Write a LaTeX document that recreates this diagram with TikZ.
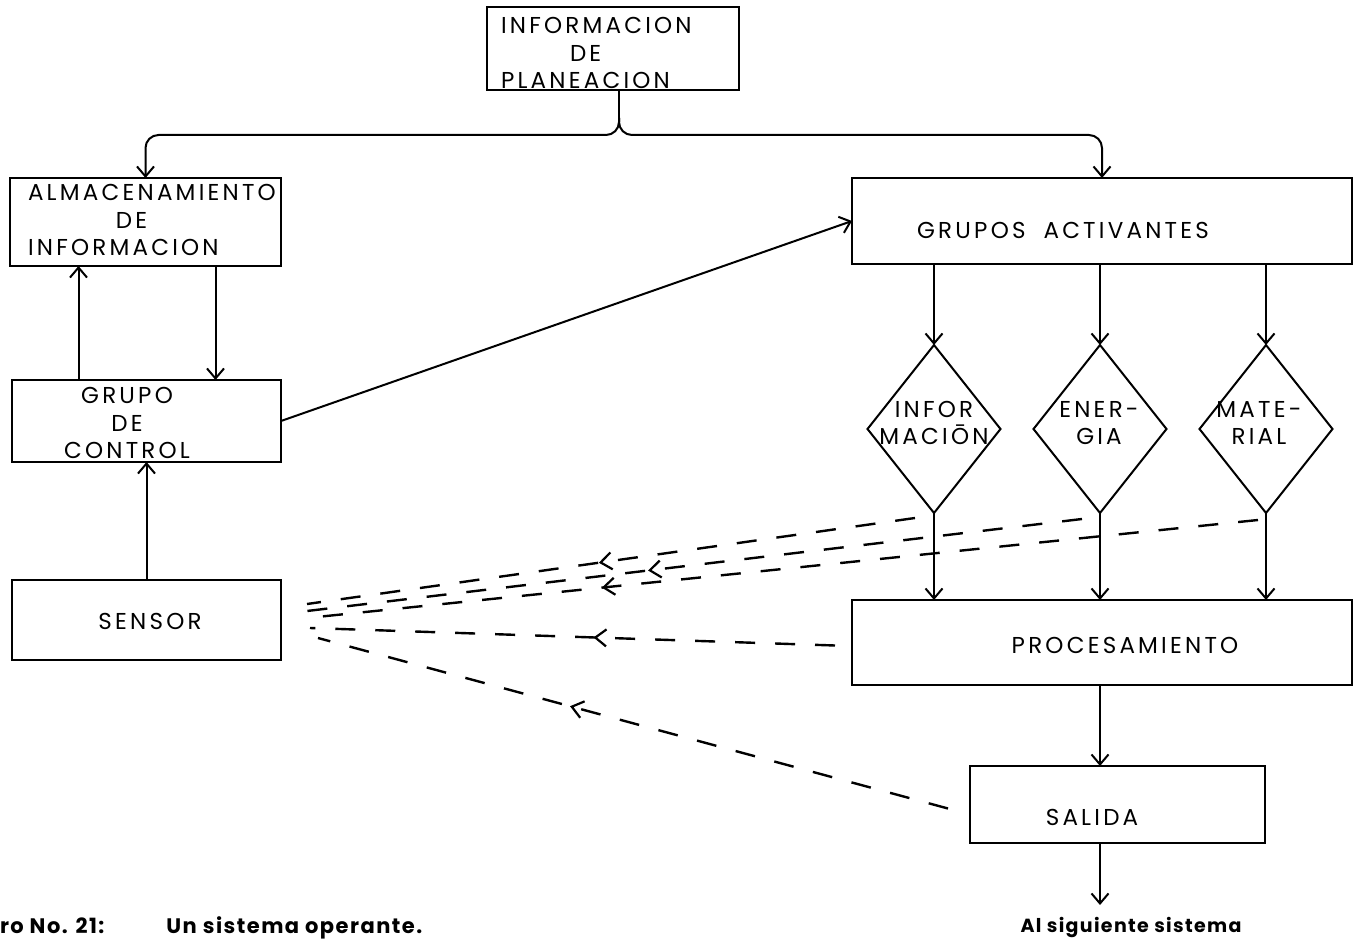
\documentclass[tikz,border=0pt]{standalone}
\usepackage{fontspec}
\setmainfont{Poppins}
\newfontfamily\boxfont{Poppins}[LetterSpace=14]
\newfontfamily\capfont{Poppins}[LetterSpace=7]
\usetikzlibrary{arrows.meta,shapes.geometric,decorations.markings}

\begin{document}
\begin{tikzpicture}[x=1pt,y=-1pt,
  every node/.style={inner sep=0pt,outer sep=0pt},
  box/.style={draw,line width=2pt,rectangle},
  rhombus/.style={draw,line width=2pt,diamond,minimum width=133pt,minimum height=168pt},
  txt/.style={font=\boxfont\fontsize{23}{27.5}\selectfont,align=center},
  captxt/.style={font=\capfont\bfseries\fontsize{#1}{24}\selectfont},
  conn/.style={line width=2pt},
  arrowed/.style={-{Straight Barb[length=10pt,width=17pt,line width=2pt]}},
  fb/.style={line width=2.4pt,dash pattern=on 20pt off 20pt,
    decoration={markings,mark=at position #1 with
      {\arrow{Straight Barb[length=11pt,width=17pt,line width=2.2pt]}}},
    postaction={decorate}}
]
\useasboundingbox (0,0) rectangle (1353,939);

% ---- boxes ----
\node[box,minimum width=252pt,minimum height=83pt] (plan) at (613,48.5) {};
\node[box,minimum width=271pt,minimum height=88pt] (almac) at (145.5,222) {};
\node[box,minimum width=269pt,minimum height=82pt] (control) at (146.5,421) {};
\node[box,minimum width=269pt,minimum height=80pt] (sensor) at (146.5,620) {};
\node[box,minimum width=500pt,minimum height=86pt] (act) at (1102,221) {};
\node[box,minimum width=500pt,minimum height=85pt] (proc) at (1102,642.5) {};
\node[box,minimum width=295pt,minimum height=77pt] (sal) at (1117.5,804.5) {};

% ---- decision diamonds ----
\node[rhombus] (d1) at (934,429) {};
\node[rhombus] (d2) at (1100,429) {};
\node[rhombus] (d3) at (1266,429) {};

% ---- texts ----
\node[txt,align=left,anchor=west] (plan-t) at (501,53)
  {INFORMACION\\\hspace*{69pt}DE\\PLANEACION};
\node[txt,align=left,anchor=west] (almac-t) at (28,220)
  {ALMACENAMIENTO\\\hspace*{88pt}DE\\INFORMACION};
\node[txt] (control-t) at (127,423) {GRUPO\\DE\\CONTROL};
\node[txt] (sensor-t) at (150,621) {SENSOR};
\node[txt] (act-t) at (1063,230) {GRUPOS\hspace{18pt}ACTIVANTES};
\node[txt] (d1-t) at (934,423) {INFOR\\MACIŌN};
\node[txt] (d2-t) at (1099,423) {ENER-\\GIA};
\node[txt] (d3-t) at (1259,423) {MATE-\\RIAL};
\node[txt] (proc-t) at (1125,645) {PROCESAMIENTO};
\node[txt] (sal-t) at (1092,817) {SALIDA};
\node[captxt=19,anchor=base] (next) at (1131,932) {Al siguiente sistema};
\node[captxt=21,anchor=base west] (caption) at (0,933)
  {ro No. 21:\hspace{62pt}Un sistema operante.};

% ---- planning information splits to storage and activating groups ----
\draw[conn] ([xshift=6pt]plan.south) -- ++(0,28) coordinate (fork);
\draw[conn,arrowed,rounded corners=13pt] (fork) -- ++(0,17) -| (almac.north);
\draw[conn,arrowed,rounded corners=13pt] (fork) -- ++(0,17) -| (act.north);

% ---- storage / control loop ----
\coordinate (up) at ([xshift=-68pt]control.north);
\coordinate (down) at ([xshift=70pt]almac.south);
\draw[conn,arrowed] (up) -- (up |- almac.south);
\draw[conn,arrowed] (down) -- (down |- control.north);
\draw[conn,arrowed] (sensor.north) -- (control.south);
\draw[conn,arrowed] (control.east) -- (act.west);

% ---- activating groups through processing ----
\foreach \d in {d1,d2,d3}{
  \draw[conn,arrowed] (\d.north |- act.south) -- (\d.north);
  \draw[conn,arrowed] (\d.south) -- (\d.south |- proc.north);
}
\coordinate (out) at (1100,905);
\draw[conn,arrowed] (proc.south -| out) -- (sal.north -| out);
\draw[conn,arrowed] (sal.south -| out) -- (out);

% ---- feedback to the sensor ----
\coordinate (s1) at (307,604);
\coordinate (s2) at (307,611);
\coordinate (s3) at (307,618);
\coordinate (s4) at (310,628);
\coordinate (s5) at (318,638);
\draw[fb=0.52] ([xshift=-19pt,yshift=-5pt]d1.south) -- (s1);
\draw[fb=0.56] ([xshift=-18pt,yshift=-6pt]d2.south) -- (s2);
\draw[fb=0.69] ([xshift=-8pt,yshift=-7pt]d3.south) -- (s3);
\draw[fb=0.46] ([xshift=-17pt,yshift=-3pt]proc.west) -- (s4);
\draw[fb=0.60] ([xshift=-22pt,yshift=-4pt]sal.west) -- (s5);
\end{tikzpicture}
\end{document}
